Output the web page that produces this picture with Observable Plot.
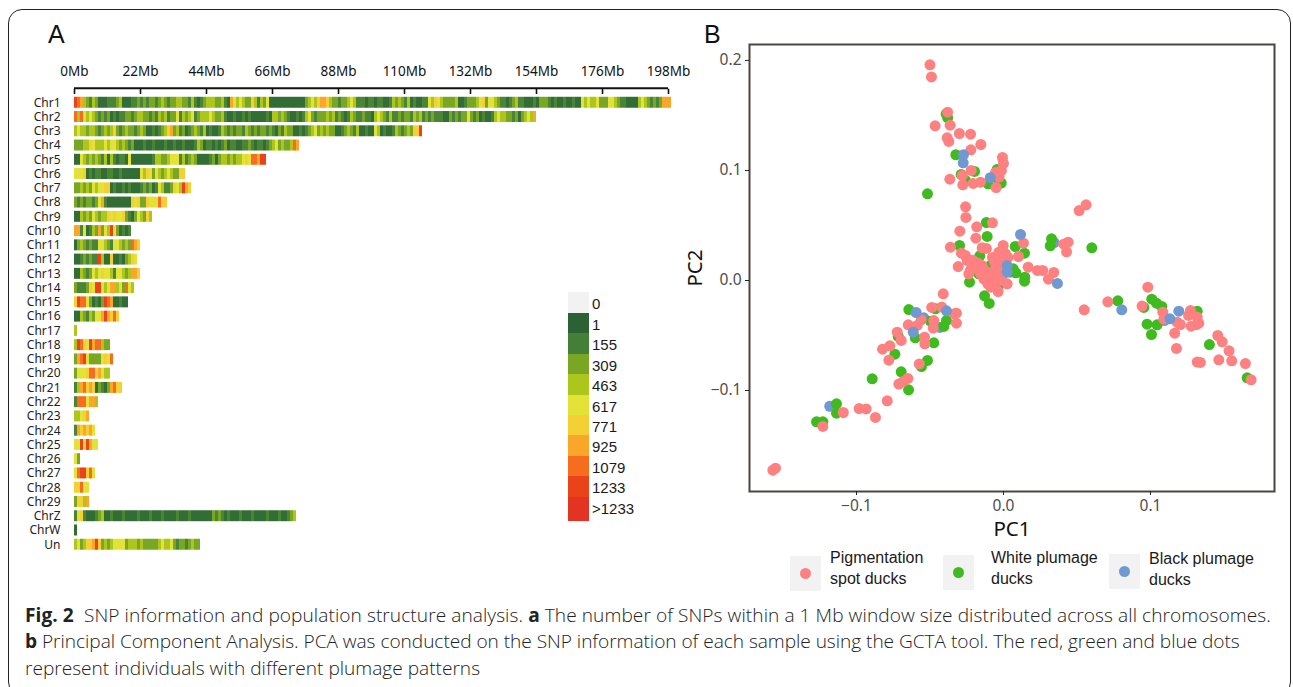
<!DOCTYPE html>
<html><head><meta charset="utf-8">
<script src="https://cdn.jsdelivr.net/npm/d3@7"></script>
<script src="https://cdn.jsdelivr.net/npm/@observablehq/plot@0.6"></script>
<style>
html,body{margin:0;padding:0;background:#fff;font-family:"Liberation Sans",Arial,sans-serif;}
#page{position:relative;width:1293px;height:687px;overflow:hidden;}
#frame{position:absolute;left:8px;top:9px;width:1281px;height:685px;border:1.5px solid #222;border-radius:14px;}
.abs{position:absolute;}
.cap{position:absolute;left:25px;white-space:nowrap;font-family:"Open Sans",sans-serif;font-weight:300;font-size:19.1px;color:#222;line-height:24px;}
.cap b{font-weight:700;}
.lg{position:absolute;font-size:16px;line-height:20.5px;color:#1a1a1a;white-space:nowrap;}
svg{overflow:visible;}
</style></head><body><div id="page"><div id="frame"></div></div>
<script>
// ---- Panel A: bins of SNP count per 1 Mb window
const binLabels = ["0","1","155","309","463","617","771","925","1079","1233",">1233"];
const binColors = ["#f2f2f2","#2c6134","#447f37","#79a723","#adc61b","#e3e337","#f4d034","#faa629","#f66d1f","#ea431a","#e33322"];
const barColors = ["#f2f2f2","#336d36","#4a8536","#79a723","#adc61b","#e3e337","#f4d034","#faa629","#f66d1f","#ea431a","#e33322"];
const chromosomes = ["Chr1","Chr2","Chr3","Chr4","Chr5","Chr6","Chr7","Chr8","Chr9","Chr10","Chr11","Chr12","Chr13","Chr14","Chr15","Chr16","Chr17","Chr18","Chr19","Chr20","Chr21","Chr22","Chr23","Chr24","Chr25","Chr26","Chr27","Chr28","Chr29","ChrZ","ChrW","Un"];
// one digit per 1 Mb window: index into binLabels
const windows = [
"9874324311 1222341112 2323233234 3233443324 2123444334 2175454336 4243511111 1111111345 4677643323 3454222122 1221124343 2412112254 6543333411 2333456355 4322123422 1112133321 2112112115 4544533355 4322111145 432323777",
"8485454323 2312122332 3443323243 4233524345 2344454334 2112112121 1111214434 3211212453 233343423 212 43 223221 454 324 2232332 4342 32322211 323233 5 32312112 4544 332313 454 7",
"4544344323 4346323433 2343112123 4673423123 4324121124 3232332432 3233232132 4331121234 5343433112 34 324 11211 54 12112 432343 66 9",
"3334465444 5455434323 1112112111 2112112111 2431221212 3122112232 1221234534 33487",
"1154343432 4142122151 1111112443 3455524234 3111123134 4343445658 8799",
"5556 121221122112111111 546535434543 366",
"3343435455 6612112121 1123231254 223654976",
"3232332357 2111111116 56336555866",
"11434354344656556321354364",
"7725124373549531212",
"1343232255432554343876",
"112323229411611213465",
"1143235456554255434776",
"32223659954577453854",
"698853121398711211",
"114324355797686",
"4",
"498659788433",
"3789533335658",
"355568867544",
"2478676132137866",
"28885774",
"44567",
"2767675",
"55969755",
"53",
"5899685",
"66855",
"36647",
"2562111234 1121112111 1211121112 1111211121 1111113232 1211121112 1111211121 1234",
"1",
"453466796343455553444343333345445323323433"
].map(s => s.replace(/ /g, ""));
const mbTicks = [0,22,44,66,88,110,132,154,176,198];

// ---- Panel B: PCA coordinates [PC1, PC2]
const pinkDucks = [[-0.05,0.196],[-0.049,0.185],[-0.038,0.153],[-0.0465,0.1406],[-0.0363,0.1412],[-0.03,0.1336],[-0.0224,0.133],[-0.0383,0.1297],[-0.0372,0.1264],[-0.0222,0.1188],[-0.0154,0.1236],[-0.022,0.1],[-0.028,0.0955],[-0.0365,0.0921],[-0.0277,0.087],[-0.0206,0.0882],[-0.0156,0.0894],[-0.005,0.0845],[-0.003,0.094],[-0.0007,0.1118],[0,0.1064],[-0.0014,0.1],[-0.0054,0.0982],
[-0.0258,0.067],[-0.0256,0.0573],[-0.0182,0.0488],[-0.0075,0.0524],[-0.0297,0.0448],[-0.0188,0.0385],[-0.0361,0.0303],[-0.0145,0.0297],[-0.0116,0.0291],[-0.0002,0.0318],[0.0136,0.0339],[0.0102,0.0218],[-0.0286,0.0248],[-0.0259,0.0227],[-0.0247,0.0182],[-0.0308,0.0127],[-0.0224,0.0097],[-0.0236,0.0061],[-0.0032,0.0257],[0.0014,0.0243],[-0.0032,0.0152],[-0.0054,0.0106],[-0.0145,0.0136],[-0.019,0.0136],[-0.0156,0.0061],[-0.0134,0.0015],[-0.0107,-0.003],[-0.0088,-0.0061],[-0.0036,-0.01],[0.0025,-0.003],[-0.0032,0],[-0.0077,0.0061],[-0.001,0.0205],[-0.006,0.0165],[-0.012,0.0085],[-0.0125,0.002],[-0.0005,0.01],[-0.001,0.004],[-0.021,0.0185],[-0.0175,0.016],[-0.009,0.0015],[-0.0055,-0.004],[0.0005,0.0165],[0.003,0.021],[-0.0075,0.021],
[0.0168,0.0121],[0.0231,0.0091],[0.0267,0.0091],[0.0342,0.0073],[0.0306,0.0012],[0.0429,0.0261],[0.044,0.0348],[0.041,0.033],[0.0515,0.0636],[0.0562,0.0688],
[0.0982,-0.0061],[0.071,-0.0194],[0.0549,-0.0267],[0.0943,-0.0233],[0.1084,-0.0288],[0.1091,-0.0352],[0.1181,-0.0379],[0.1204,-0.04],[0.1277,-0.0415],[0.1272,-0.0273],[0.1259,-0.0318],[0.1318,-0.0333],[0.1329,-0.0388],[0.1313,-0.04],[0.1165,-0.0479],[0.1177,-0.0618],[0.1318,-0.0742],[0.134,-0.0745],[0.1458,-0.05],[0.1488,-0.0557],[0.1535,-0.0639],[0.1465,-0.0721],[0.1553,-0.073],[0.1646,-0.0755],[0.1685,-0.0903],
[-0.041,-0.0121],[-0.0488,-0.0245],[-0.042,-0.0242],[-0.032,-0.0297],[-0.0333,-0.0303],[-0.032,-0.0388],[-0.0474,-0.0364],[-0.0478,-0.0433],[-0.056,-0.0358],[-0.0587,-0.0409],[-0.0648,-0.0403],[-0.0723,-0.047],[-0.0696,-0.0545],[-0.0537,-0.0515],[-0.0535,-0.0576],[-0.0773,-0.0594],[-0.0823,-0.0624],[-0.078,-0.0724],[-0.0573,-0.0758],[-0.0651,-0.089],[-0.0682,-0.0918],[-0.0712,-0.0942],[-0.0791,-0.1094],[-0.0871,-0.1245],[-0.0982,-0.1164],[-0.0934,-0.1167],[-0.109,-0.12],[-0.1229,-0.1327],[-0.1551,-0.1706],[-0.1569,-0.1724]];
const greenDucks = [[-0.039,0.1515],[-0.038,0.148],[-0.0324,0.1143],[-0.0197,0.0991],[-0.0288,0.0964],[-0.0259,0.0909],[-0.0104,0.0879],[-0.0043,0.1009],[-0.002,0.0995],[-0.0517,0.0788],[-0.003,0.09],[-0.0015,0.0885],
[-0.0116,0.0527],[-0.0111,0.04],[-0.0299,0.0318],[-0.0161,0.0224],[0.008,0.0309],[0.0143,0.0248],[0.0327,0.0379],[0.0318,0.0315],[0.0601,0.0297],[-0.0231,-0.0015],[-0.0129,-0.0139],[-0.0097,-0.0209],[0.0145,0.003],[0.0143,-0.0006],[0.0066,0.0106],[0.0084,0.007],[-0.0066,0.0182],[-0.0088,0.0136],[-0.0168,0.0061],[-0.0032,-0.0045],[-0.002,0.0061],
[0.0778,-0.0185],[0.0955,-0.0245],[0.1009,-0.017],[0.1041,-0.0206],[0.1077,-0.0236],[0.0977,-0.0397],[0.1045,-0.0403],[0.1007,-0.0491],[0.1318,-0.0279],[0.1401,-0.0582],[0.1658,-0.0885],
[-0.0644,-0.0264],[-0.0463,-0.0258],[-0.0497,-0.037],[-0.0388,-0.0364],[-0.0406,-0.0418],[-0.0716,-0.0509],[-0.06,-0.0521],[-0.0474,-0.0567],[-0.0739,-0.067],[-0.0517,-0.0727],[-0.0558,-0.0782],[-0.0696,-0.083],[-0.0893,-0.0894],[-0.0646,-0.0994],[-0.1136,-0.1121],[-0.1136,-0.1206],[-0.1272,-0.1285],[-0.1229,-0.1285]];
const blackBack = [[0.0345,0.0345],[-0.1182,-0.1143],[0.1095,-0.0364],[-0.0433,-0.0427],[0.0048,0.0075],[-0.0542,-0.0339]];
const blackFront = [[-0.0272,0.1143],[-0.0274,0.107],[-0.009,0.0934],[0.0116,0.0418],[0.0367,-0.0027],[0.0025,0.0136],[0.0025,0.0075],[0.0805,-0.0267],[0.1193,-0.0279],[0.1132,-0.0348],[-0.0594,-0.0291],[-0.0388,-0.0276],[-0.0614,-0.047]];
const pcTicksX = [-0.1,0,0.1], pcTicksY = [-0.1,0,0.1,0.2];
const pinkC="#ff8080", greenC="#3fbb1f", blueC="#7099d2";

// ---- Assemble
const cells = [];
chromosomes.forEach((c,i) => { [...windows[i]].forEach((b,j) => cells.push({chr:c,start:j,end:j+1,bin:binLabels[+b]})); });
const page = document.getElementById("page");
const font = '"Liberation Sans",Arial,sans-serif';

const a = Plot.plot({
  width:700, height:500, marginLeft:74, marginRight:32, marginTop:38.5, marginBottom:2,
  style:{background:"transparent",fontFamily:font,color:"#111"},
  x:{domain:[0,198],axis:null},
  y:{domain:chromosomes,padding:0.23,round:false,axis:null},
  color:{type:"ordinal",domain:binLabels,range:barColors},
  marks:[
    Plot.barX(cells,{x1:"start",x2:"end",y:"chr",fill:"bin"}),
    Plot.ruleY(["Chr1"],{x1:0,x2:198,dy:-14.6,strokeWidth:2,stroke:"#111"}),
    Plot.axisX(mbTicks,{anchor:"top",tickSize:-5.3,dy:-5.8,tickPadding:18,strokeWidth:1.6,stroke:"#111",tickFormat:d=>d+"Mb",fontSize:13.5,fill:"#111",label:null}),
    Plot.axisY(chromosomes,{anchor:"left",tickSize:0,tickPadding:14,fontSize:12,fill:"#222",label:null})
  ]
});
a.style.cssText="position:absolute;left:0;top:55px;";
page.appendChild(a);

const fmt = d => d3.format(".1f")(d).replace("-","\u2212");
const dots = (arr,c) => Plot.dot(arr,{x:d=>d[0],y:d=>d[1],r:5.5,fill:c,stroke:null});
const b = Plot.plot({
  width:610, height:510, marginLeft:69, marginRight:16, marginTop:14, marginBottom:49,
  style:{background:"transparent",fontFamily:font,color:"#4d4d4d"},
  x:{domain:[-0.1728,0.1844]},
  y:{domain:[-0.1918,0.2145]},
  marks:[
    dots(blackBack,blueC),
    dots(greenDucks,greenC),
    dots(pinkDucks,pinkC),
    dots(blackFront,blueC),
    Plot.frame({stroke:"#4a4540",strokeWidth:2}),
    Plot.axisX(pcTicksX,{anchor:"bottom",tickSize:4,tickPadding:4,stroke:"#222",fontSize:15.5,fill:"#4d4d4d",tickFormat:fmt,label:null}),
    Plot.axisY(pcTicksY,{anchor:"left",tickSize:4,tickPadding:4,stroke:"#222",fontSize:15.5,fill:"#4d4d4d",tickFormat:fmt,label:null}),
    Plot.text(["PC1"],{frameAnchor:"bottom",dy:44,fontSize:20.5,fill:"#111"}),
    Plot.text(["PC2"],{frameAnchor:"left",dx:-54,rotate:-90,textAnchor:"middle",fontSize:20.5,fill:"#111"})
  ]
});
b.style.cssText="position:absolute;left:680px;top:30px;";
page.appendChild(b);

function el(cls,css,html){const d=document.createElement("div");d.className=cls;d.style.cssText=css;d.innerHTML=html;page.appendChild(d);}
// panel letters
el("abs","left:48px;top:20px;font-size:25px;color:#111;","A");
el("abs","left:704px;top:20px;font-size:25px;color:#111;","B");
// bin legend
const binTops=[292,313,333,354,374,395,415,435,456,476,497,521];
binLabels.forEach((l,i)=>{
  el("abs",`left:568px;top:${binTops[i]}px;width:21px;height:${binTops[i+1]-binTops[i]}px;background:${binColors[i]};`,"");
  el("abs",`left:592px;top:${binTops[i]+2}px;line-height:20px;font-size:15px;color:#1a1a1a;`,l);
});
// PCA legend
[[790,556,pinkC,830,"Pigmentation<br>spot ducks",548],[943,555,greenC,991,"White plumage<br>ducks",548],[1109,554,blueC,1149,"Black plumage<br>ducks",549]].forEach(([x,y,c,tx,t,ty])=>{
  el("abs",`left:${x}px;top:${y}px;width:31px;height:35px;background:#f2f2f2;`,"");
  el("abs",`left:${x+10}px;top:${y+12}px;width:11px;height:11px;border-radius:50%;background:${c};`,"");
  el("lg",`left:${tx}px;top:${ty}px;`,t);
});
// caption
el("cap","top:603px;letter-spacing:0.07px;","<b>Fig. 2</b>&nbsp; SNP information and population structure analysis. <b>a</b> The number of SNPs within a 1 Mb window size distributed across all chromosomes.");
el("cap","top:629px;letter-spacing:-0.04px;","<b>b</b> Principal Component Analysis. PCA was conducted on the SNP information of each sample using the GCTA tool. The red, green and blue dots");
el("cap","top:656px;","represent individuals with different plumage patterns");
</script></body></html>
